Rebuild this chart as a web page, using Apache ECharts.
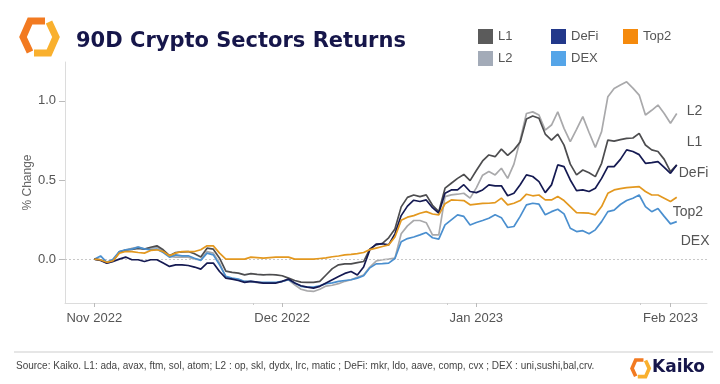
<!DOCTYPE html>
<html><head><meta charset="utf-8">
<script src="https://cdn.jsdelivr.net/npm/echarts@6/dist/echarts.min.js"></script>
<style>html,body{margin:0;padding:0;background:#fff}#c{width:720px;height:384px}</style>
</head><body><div id="c"></div>
<script>
// Day offsets from 2022-11-01 (daily closes, Nov 1 2022 .. Feb 2 2023)
const startDate = '2022-11-01';
const tickDays = [0, 30, 61, 92];
const tickLabels = ['Nov 2022', 'Dec 2022', 'Jan 2023', 'Feb 2023'];
const minorTickDays = [25.3, 56.4, 87.2];
const yTicks = [0, 0.5, 1.0];

const L1 = [0,-0.005,-0.02,-0.01,0.045,0.058,0.062,0.068,0.063,0.075,0.084,0.059,0.022,0.042,0.046,0.048,0.034,0.013,0.069,0.063,
0.006,-0.076,-0.084,-0.088,-0.099,-0.092,-0.096,-0.099,-0.097,-0.099,-0.105,-0.12,-0.135,-0.145,-0.147,-0.147,-0.14,-0.1,
-0.06,-0.036,-0.03,-0.03,-0.022,-0.015,0.065,0.09,0.1,0.135,0.19,0.33,0.39,0.405,0.395,0.406,0.34,0.3,0.448,0.479,0.51,0.535,
0.496,0.56,0.62,0.658,0.647,0.695,0.655,0.69,0.74,0.885,0.904,0.89,0.79,0.752,0.79,0.72,0.6,
0.532,0.563,0.545,0.521,0.605,0.752,0.745,0.755,0.763,0.765,0.794,0.721,0.69,0.68,0.63,0.553,0.595];

const L2 = [0,-0.005,-0.025,-0.015,0.048,0.055,0.069,0.076,0.063,0.069,0.076,0.048,0.017,0.013,0.013,0.013,0,-0.004,0.048,0.038,
-0.025,-0.113,-0.124,-0.13,-0.141,-0.141,-0.148,-0.151,-0.151,-0.151,-0.14,-0.13,-0.162,-0.19,-0.2,-0.204,-0.19,-0.17,
-0.165,-0.155,-0.14,-0.13,-0.115,-0.1,-0.05,-0.012,-0.004,0.0,0.006,0.16,0.21,0.244,0.244,0.23,0.153,0.153,0.395,0.406,0.41,0.416,
0.385,0.45,0.53,0.553,0.532,0.574,0.51,0.6,0.752,0.92,0.93,0.91,0.815,0.847,0.93,0.826,0.742,
0.82,0.9,0.8,0.706,0.805,1.026,1.078,1.1,1.12,1.08,1.036,0.91,0.94,0.973,0.92,0.858,0.92];

const DeFi = [0,-0.008,-0.025,-0.015,0.0,0.013,-0.004,-0.004,-0.015,-0.004,-0.004,-0.025,-0.046,-0.036,-0.036,-0.04,-0.05,-0.063,-0.025,-0.025,
-0.078,-0.12,-0.126,-0.135,-0.147,-0.141,-0.145,-0.151,-0.151,-0.151,-0.14,-0.126,-0.151,-0.168,-0.177,-0.183,-0.172,-0.151,
-0.13,-0.11,-0.09,-0.078,-0.1,-0.05,0.06,0.095,0.097,0.09,0.16,0.275,0.335,0.372,0.364,0.374,0.325,0.29,0.416,0.437,0.437,0.47,
0.427,0.42,0.437,0.469,0.463,0.463,0.4,0.416,0.47,0.532,0.522,0.49,0.42,0.469,0.595,0.584,0.5,
0.433,0.437,0.427,0.448,0.51,0.584,0.584,0.63,0.69,0.68,0.66,0.605,0.61,0.616,0.58,0.542,0.595];

const Top2 = [0,-0.005,-0.02,-0.01,0.038,0.048,0.048,0.042,0.038,0.055,0.059,0.048,0.021,0.038,0.048,0.048,0.048,0.059,0.084,0.084,
0.038,0.0,0.0,0.0,0.0,0.013,0.01,0.006,0.01,0.013,0.013,0.013,0.0,0.0,0.0,0.0,0.004,0.008,
0.015,0.02,0.027,0.03,0.035,0.042,0.06,0.07,0.08,0.09,0.14,0.245,0.265,0.275,0.29,0.3,0.285,0.28,0.35,0.374,0.372,0.37,
0.343,0.348,0.352,0.353,0.357,0.385,0.343,0.353,0.37,0.41,0.4,0.405,0.374,0.374,0.395,0.37,0.332,
0.294,0.292,0.29,0.28,0.332,0.416,0.437,0.445,0.452,0.455,0.458,0.427,0.405,0.405,0.385,0.364,0.391];

const DEX = [0,0.02,-0.02,0.0,0.048,0.059,0.063,0.076,0.065,0.059,0.063,0.042,0.013,0.027,0.021,0.021,0.006,-0.008,0.038,0.027,
-0.036,-0.109,-0.12,-0.126,-0.141,-0.141,-0.145,-0.147,-0.147,-0.147,-0.14,-0.13,-0.151,-0.172,-0.177,-0.177,-0.168,-0.155,
-0.15,-0.14,-0.135,-0.13,-0.12,-0.105,-0.055,-0.03,-0.028,-0.025,0.004,0.11,0.13,0.14,0.153,0.168,0.135,0.126,0.216,0.248,0.28,0.27,
0.216,0.231,0.244,0.258,0.28,0.262,0.2,0.206,0.27,0.343,0.353,0.347,0.28,0.3,0.315,0.286,0.195,
0.174,0.18,0.16,0.185,0.237,0.3,0.31,0.345,0.37,0.385,0.405,0.332,0.3,0.32,0.27,0.223,0.237];

const lineColors = {L1:'#4d4d4f', L2:'#a9a9ab', DeFi:'#151a52', Top2:'#e3981f', DEX:'#4a8fcf'};
const legendColors = {L1:'#5b5b5b', L2:'#a3abb8', DeFi:'#22388a', Top2:'#f58a0c', DEX:'#55a5e8'};
const labelOffsets = {L1:[5,-23], L2:[5,-2], DeFi:[-3,8], Top2:[-9,15], DEX:[-1,20]};

function pairs(arr){ return arr.map((v,i)=>[i,v]); }

const seriesDefs = [['L2',L2],['L1',L1],['DEX',DEX],['DeFi',DeFi],['Top2',Top2]];
const series = seriesDefs.map(([name,arr],k)=>({
  name, type:'line', data:pairs(arr), showSymbol:false, symbol:'none',
  lineStyle:{color:lineColors[name], width:1.7}, itemStyle:{color:lineColors[name]},
  z: 3+k, animation:false,
  endLabel:{show:true, formatter:name, color:'#555', fontSize:14, fontFamily:'Liberation Sans',
    distance:5, offset:labelOffsets[name]},
  markLine: k===0 ? {silent:true, symbol:'none', label:{show:false},
    lineStyle:{type:[2,2], color:'#c8c8c8', width:1}, data:[{yAxis:0}]} : undefined
}));

function logo(x, y, s){
  return [
    {type:'polyline', shape:{points:[[x+24*s,y+2*s],[x+9*s,y+2*s],[x+2*s,y+18*s],[x+9*s,y+33*s]]},
     style:{stroke:'#f27a21', lineWidth:7*s, fill:null, lineJoin:'miter'}},
    {type:'polyline', shape:{points:[[x+13*s,y+34*s],[x+28*s,y+34*s],[x+35*s,y+18*s],[x+28*s,y+3*s]]},
     style:{stroke:'#f9b02e', lineWidth:7*s, fill:null, lineJoin:'miter'}}
  ];
}

const chart = echarts.init(document.getElementById('c'), null, {renderer:'canvas'});
chart.setOption({
  backgroundColor:'#ffffff',
  animation:false,
  textStyle:{fontFamily:'Liberation Sans'},
  grid:{left:65, right:13, top:62, bottom:81, containLabel:false},
  xAxis:[{
    type:'value', min:-4.68, max:97.83,
    axisLine:{show:true, onZero:false, lineStyle:{color:'#dcdcdc', width:1}},
    splitLine:{show:false},
    axisTick:{show:true, customValues:tickDays, length:4, lineStyle:{color:'#bbb'}},
    axisLabel:{show:true, customValues:tickDays, color:'#555', fontSize:13, margin:9,
      formatter:(v)=>tickLabels[tickDays.indexOf(Math.round(v))] || ''}
  },{
    type:'value', min:-4.68, max:97.83, position:'bottom',
    axisLine:{show:false, onZero:false}, splitLine:{show:false}, axisLabel:{show:false},
    axisTick:{show:true, customValues:minorTickDays, length:2, lineStyle:{color:'#ccc'}}
  }],
  yAxis:{
    type:'value', min:-0.277, max:1.245,
    axisLine:{show:true, onZero:false, lineStyle:{color:'#dcdcdc', width:1}},
    splitLine:{show:false},
    axisTick:{show:true, customValues:yTicks, length:6, lineStyle:{color:'#bbb'}},
    axisLabel:{show:true, customValues:yTicks, color:'#555', fontSize:13, margin:9,
      formatter:(v)=>v.toFixed(1)},
    name:'% Change', nameLocation:'middle', nameGap:31, nameRotate:90, nameMoveOverlap:false,
    nameTextStyle:{color:'#666', fontSize:12, fontFamily:'Liberation Sans'}
  },
  legend:[
    {data:[{name:'L1',itemStyle:{color:legendColors.L1}},{name:'L2',itemStyle:{color:legendColors.L2}}],
     orient:'vertical', left:473, top:24, itemWidth:15, itemHeight:15, itemGap:7, icon:'rect',
     textStyle:{color:'#555', fontSize:13}, selectedMode:false},
    {data:[{name:'DeFi',itemStyle:{color:legendColors.DeFi}},{name:'DEX',itemStyle:{color:legendColors.DEX}}],
     orient:'vertical', left:546, top:24, itemWidth:15, itemHeight:15, itemGap:7, icon:'rect',
     textStyle:{color:'#555', fontSize:13}, selectedMode:false},
    {data:[{name:'Top2',itemStyle:{color:legendColors.Top2}}],
     orient:'vertical', left:618, top:24, itemWidth:15, itemHeight:15, itemGap:7, icon:'rect',
     textStyle:{color:'#555', fontSize:13}, selectedMode:false}
  ],
  graphic:[
    ...logo(21, 19, 1),
    {type:'text', left:76, top:31, style:{text:'90D Crypto Sectors Returns', fill:'#16164a',
      font:'bold 21px "DejaVu Sans"'}},
    {type:'line', shape:{x1:14, y1:352, x2:713, y2:352}, style:{stroke:'#dedede', lineWidth:1.5}},
    {type:'text', left:16, top:361, style:{text:'Source: Kaiko. L1: ada, avax, ftm, sol, atom; L2 : op, skl, dydx, lrc, matic ; DeFi: mkr, ldo, aave, comp, cvx ; DEX : uni,sushi,bal,crv.',
      fill:'#444', font:'10px "Liberation Sans"'}},
    ...logo(631, 359, 0.52),
    {type:'text', left:652, top:359, style:{text:'Kaiko', fill:'#16164a', font:'bold 17px "DejaVu Sans"'}}
  ],
  series
});
</script></body></html>
